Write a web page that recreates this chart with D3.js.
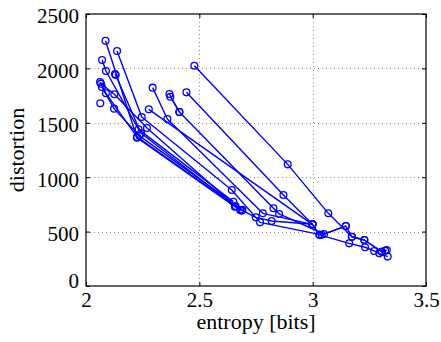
<!DOCTYPE html>
<html>
<head>
<meta charset="utf-8">
<script src="https://cdn.jsdelivr.net/npm/d3@7"></script>
<style>
  html, body { margin: 0; padding: 0; background: #fff; }
  svg { display: block; }
  text { font-family: "Liberation Serif", "Times New Roman", serif; fill: #000; }
</style>
</head>
<body>
<svg id="chart" width="441" height="342"></svg>
<script>
// Rate–distortion trajectories: each run is a list of [entropy, distortion] points.
const runA = [[2.086,2254],[2.225,1363],[2.657,729],[2.749,631],[2.819,597],[2.999,567],[3.030,470],[3.161,392],[3.231,356],[3.271,322],[3.294,300],[3.331,270]];
const runB = [[2.137,2160],[2.246,1553],[2.643,882],[2.768,585],[3.040,470],[3.146,551],[3.173,453],[3.228,423],[3.305,315]];
const runC = [[2.071,2077],[2.088,1976],[2.232,1440],[2.650,775]];
const runD = [[2.128,1949],[2.131,1939],[2.243,1404],[2.680,699]];
const runE = [[2.062,1875],[2.088,1771],[2.225,1370],[2.687,692]];
const runF = [[2.066,1860],[2.125,1762],[2.269,1452],[2.660,735]];
const runG = [[2.070,1830],[2.124,1630],[2.236,1380],[2.690,700]];
const runH = [[2.063,1679]];
const runI = [[2.478,2025],[2.890,1118],[3.069,668],[3.173,453],[3.228,423],[3.305,315],[3.320,325],[3.327,330]];
const runJ = [[2.443,1780],[2.871,836],[2.999,567],[3.030,470]];
const runK = [[2.294,1823],[2.359,1535],[2.780,668],[2.999,567]];
const runL = [[2.368,1765],[2.412,1599],[2.827,714],[2.852,662],[3.050,478],[3.146,551]];
const runM = [[2.372,1740],[2.412,1599]];
const runN = [[2.277,1624],[2.999,567]];
const runs = [runA, runB, runC, runD, runE, runF, runG, runH, runI, runJ, runK, runL, runM, runN];

const xTicks = [2, 2.5, 3, 3.5];
const yTicks = [0, 500, 1000, 1500, 2000, 2500];
const xLabel = "entropy [bits]";
const yLabel = "distortion";

const svg = d3.select("#chart");
const m = { left: 86, right: 426, top: 14, bottom: 286 };

const x = d3.scaleLinear().domain([2, 3.5]).range([m.left, m.right]);
const y = d3.scaleLinear().domain([0, 2500]).range([m.bottom, m.top]);

// dotted grid
const grid = svg.append("g").attr("stroke", "#8c8c8c").attr("stroke-width", 1)
  .attr("stroke-dasharray", "1,3");
grid.selectAll(".gx").data(xTicks.slice(1, -1)).enter().append("line")
  .attr("x1", d => Math.round(x(d)) + 0.5).attr("x2", d => Math.round(x(d)) + 0.5)
  .attr("y1", m.top).attr("y2", m.bottom);
grid.selectAll(".gy").data(yTicks.slice(1, -1)).enter().append("line")
  .attr("y1", d => Math.round(y(d)) + 0.5).attr("y2", d => Math.round(y(d)) + 0.5)
  .attr("x1", m.left).attr("x2", m.right);

// data lines and circle markers
const line = d3.line().x(d => x(d[0])).y(d => y(d[1]));
const plot = svg.append("g");
plot.selectAll("path.run").data(runs).enter().append("path")
  .attr("class", "run")
  .attr("d", line)
  .attr("fill", "none").attr("stroke", "#0000ff").attr("stroke-width", 1.4)
  .attr("stroke-linejoin", "round");
plot.selectAll("g.mk").data(runs).enter().append("g").attr("class", "mk")
  .selectAll("circle").data(d => d).enter().append("circle")
  .attr("cx", d => x(d[0])).attr("cy", d => y(d[1])).attr("r", 3.4)
  .attr("fill", "none").attr("stroke", "#0000ff").attr("stroke-width", 1.3);

// axes: ticks inward on all four sides
const tl = 4;
const fmt = d3.format("");
const axB = svg.append("g").attr("transform", `translate(0,${m.bottom})`)
  .call(d3.axisBottom(x).tickValues(xTicks).tickSize(-tl).tickPadding(6).tickFormat(fmt));
const axT = svg.append("g").attr("transform", `translate(0,${m.top})`)
  .call(d3.axisTop(x).tickValues(xTicks).tickSize(-tl).tickFormat(""));
const axL = svg.append("g").attr("transform", `translate(${m.left},0)`)
  .call(d3.axisLeft(y).tickValues(yTicks).tickSize(-tl).tickPadding(7).tickFormat(d3.format("d")));
const axR = svg.append("g").attr("transform", `translate(${m.right},0)`)
  .call(d3.axisRight(y).tickValues(yTicks).tickSize(-tl).tickFormat(""));

[axB, axT, axL, axR].forEach(a => {
  a.attr("font-family", null);
  a.select(".domain").remove();
  a.selectAll("line").attr("stroke", "#000");
  a.selectAll("text").style("font-family", "'Liberation Serif', serif").style("font-size", "21px").attr("fill", "#000");
});
axB.selectAll("text").attr("dy", "0.7em");
axL.selectAll("text").attr("dy", "0.42em");
axL.selectAll("text").filter(d => d === 0).attr("dy", "0.05em");

// box
svg.append("rect").attr("x", m.left).attr("y", m.top)
  .attr("width", m.right - m.left).attr("height", m.bottom - m.top)
  .attr("fill", "none").attr("stroke", "#000").attr("stroke-width", 1.2);

// axis labels
svg.append("text").attr("x", (m.left + m.right) / 2).attr("y", 329)
  .attr("text-anchor", "middle").style("font-size", "22px").text(xLabel);
svg.append("text").attr("transform", `translate(24,${(m.top + m.bottom) / 2}) rotate(-90)`)
  .attr("text-anchor", "middle").style("font-size", "22px").text(yLabel);
</script>
</body>
</html>
